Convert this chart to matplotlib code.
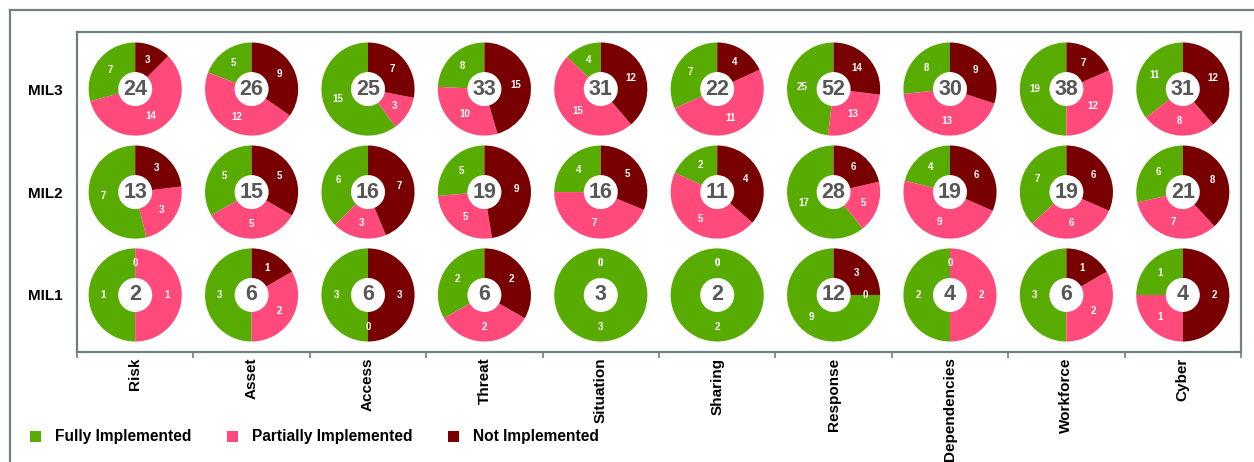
import matplotlib
matplotlib.use("Agg")
import matplotlib.pyplot as plt
from matplotlib.patches import Patch
from matplotlib.lines import Line2D

plt.rcParams['font.family'] = ['Liberation Sans', 'DejaVu Sans']

categories = ["Risk", "Asset", "Access", "Threat", "Situation",
              "Sharing", "Response", "Dependencies", "Workforce", "Cyber"]
levels = ["MIL1", "MIL2", "MIL3"]
series = ["Fully Implemented", "Partially Implemented", "Not Implemented"]
colors = ["#58AB00", "#FF4A7B", "#780000"]

# values per level: lists of [fully, partially, not] per category
mil1 = [[1, 1, 0], [3, 2, 1], [3, 0, 3], [2, 2, 2], [3, 0, 0],
        [2, 0, 0], [9, 0, 3], [2, 2, 0], [3, 2, 1], [1, 1, 2]]
mil2 = [[7, 3, 3], [5, 5, 5], [6, 3, 7], [5, 5, 9], [4, 7, 5],
        [2, 5, 4], [17, 5, 6], [4, 9, 6], [7, 6, 6], [6, 7, 8]]
mil3 = [[7, 14, 3], [5, 12, 9], [15, 3, 7], [8, 10, 15], [4, 15, 12],
        [7, 11, 4], [25, 13, 14], [8, 13, 9], [19, 12, 7], [11, 8, 12]]
data = [mil1, mil2, mil3]

W, H = 1254, 462
fig = plt.figure(figsize=(W / 100, H / 100), dpi=100)
box_l, box_r, box_t, box_b = 77, 1241, 32, 352
ax = fig.add_axes([box_l / W, 1 - box_b / H, (box_r - box_l) / W, (box_b - box_t) / H])

ncat = len(categories)
px_per_unit = (box_r - box_l) / ncat
yspan = (box_b - box_t) / px_per_unit
row_y = [0.49, 1.374, 2.259]
radius = 0.40
hole = 0.146

gray = "#707F7F"
for r, lvl in enumerate(data):
    for c, vals in enumerate(lvl):
        cx, cy = c + 0.5, row_y[r]
        wedges, texts = ax.pie(vals, colors=colors, startangle=90,
                               center=(cx, cy), radius=radius, frame=True,
                               labels=[str(v) for v in vals], labeldistance=0.68,
                               wedgeprops=dict(width=radius - hole, linewidth=0),
                               textprops=dict(color="white", fontsize=7,
                                              fontweight="bold"))
        for t in texts:
            t.set_ha("center")
            t.set_va("center")
        ax.text(cx, cy, str(sum(vals)), ha="center", va="center",
                fontsize=15.5, fontweight="bold", color="#575757")

ax.set_xlim(0, ncat)
ax.set_ylim(0, yspan)
ax.set_aspect("auto")

ax.set_xticks(range(ncat + 1))
ax.set_xticklabels([])
ax.set_xticks([i + 0.5 for i in range(ncat)], minor=True)
ax.set_xticklabels(categories, minor=True, rotation=90, fontsize=11,
                   fontweight="bold", va="top")
ax.tick_params(axis="x", which="major", length=4, color=gray, width=1.2)
ax.tick_params(axis="x", which="minor", length=0, pad=4)
ax.set_yticks(row_y)
ax.set_yticklabels(levels, fontsize=11, fontweight="bold")
ax.tick_params(axis="y", length=0, pad=10.5)
for s in ax.spines.values():
    s.set_color(gray)
    s.set_linewidth(1.6)

# outer frame (cut at right/bottom)
fig.add_artist(Line2D([10 / W, 1.0], [1 - 10 / H, 1 - 10 / H],
                      transform=fig.transFigure, color=gray, linewidth=1.6))
fig.add_artist(Line2D([10 / W, 10 / W], [0, 1 - 10 / H],
                      transform=fig.transFigure, color=gray, linewidth=1.6))

handles = [Patch(facecolor=col, edgecolor="none", label=s) for s, col in zip(series, colors)]
fig.legend(handles=handles, loc="center left", bbox_to_anchor=(24 / W, 1 - 437 / H),
           ncol=3, frameon=False, prop=dict(size=11.2, weight="bold"),
           handlelength=0.7, handleheight=0.7, handletextpad=0.9,
           columnspacing=2.3, borderaxespad=0)

fig.savefig("out.png", dpi=100)
